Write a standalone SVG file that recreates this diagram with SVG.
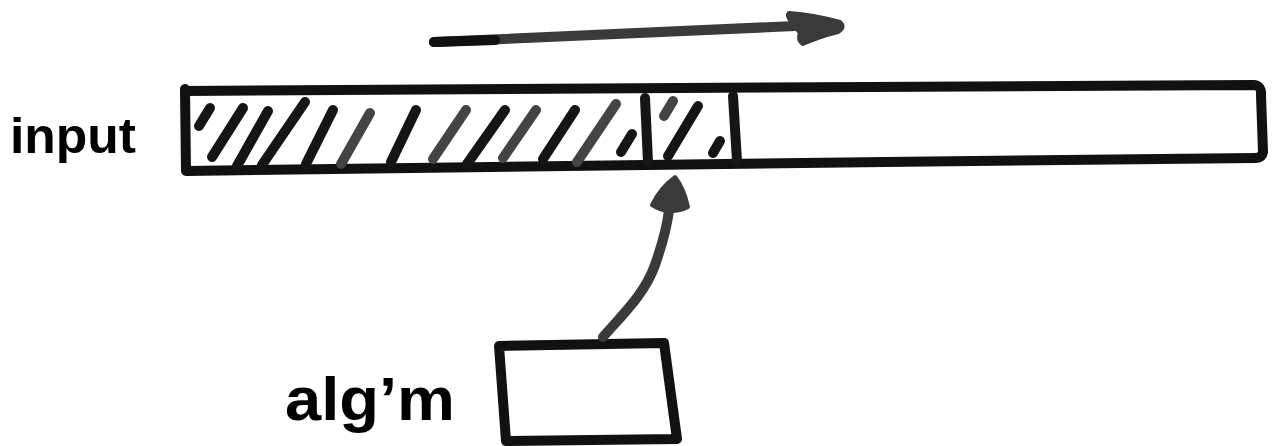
<svg xmlns="http://www.w3.org/2000/svg" width="1272" height="446" viewBox="0 0 1272 446">
  <style>
    .outline { fill: none; stroke: #111; stroke-width: 10; stroke-linecap: round; stroke-linejoin: round; }
    .hatch { fill: none; stroke: #151515; stroke-width: 10; stroke-linecap: round; }
    .hatch.gray { stroke: #444; }
    .label { font-family: "Liberation Sans", Arial, sans-serif; font-weight: bold; fill: #000; }
    .conn { fill: none; stroke: #3a3a3a; stroke-width: 10; stroke-linecap: round; stroke-linejoin: round; }
    .conn.dark { stroke: #111; }
    .head { fill: #3a3a3a; stroke: #3a3a3a; stroke-width: 4; stroke-linejoin: round; }
  </style>
  <rect width="1272" height="446" fill="#fff"/>

  <g id="input-label">
    <text class="label" x="10" y="153" font-size="50" textLength="126" lengthAdjust="spacingAndGlyphs">input</text>
  </g>

  <g id="input">
    <path class="outline" d="M185 89 L186 171 M185 91 C500 90 900 86 1254 85 Q1262 86 1261 95 L1263 152 Q1262 158 1256 158 C900 161 500 167 186 171"/>
    <line class="hatch" x1="210" y1="108" x2="199" y2="126"/>
    <line class="hatch" x1="243" y1="108" x2="212" y2="157"/>
    <line class="hatch" x1="268" y1="111" x2="237" y2="166"/>
    <line class="hatch" x1="305" y1="102" x2="262" y2="165"/>
    <line class="hatch" x1="333" y1="110" x2="306" y2="164"/>
    <line class="hatch gray" x1="370" y1="113" x2="341" y2="164"/>
    <line class="hatch" x1="416" y1="110" x2="391" y2="162"/>
    <line class="hatch gray" x1="466" y1="110" x2="433" y2="159"/>
    <line class="hatch" x1="505" y1="110" x2="467" y2="164"/>
    <line class="hatch gray" x1="536" y1="110" x2="503" y2="158"/>
    <line class="hatch" x1="575" y1="110" x2="543" y2="159"/>
    <line class="hatch gray" x1="616" y1="104" x2="577" y2="162"/>
    <line class="hatch" x1="632" y1="134" x2="621" y2="152"/>
    <line class="hatch" x1="645" y1="98" x2="648" y2="162"/>
    <line class="hatch gray" x1="673" y1="101" x2="664" y2="116"/>
    <line class="hatch" x1="698" y1="106" x2="668" y2="156"/>
    <line class="hatch" x1="720" y1="141" x2="713" y2="153"/>
    <line class="hatch" x1="733" y1="96" x2="737" y2="161"/>
  </g>

  <g id="algm-label">
    <text class="label" x="285" y="420" font-size="62" textLength="170" lengthAdjust="spacingAndGlyphs">alg’m</text>
  </g>

  <g id="algm">
    <path class="outline" d="M499 346 L664 343 L677 439 L506 441 Z"/>
  </g>

  <g id="connectors">
    <path class="conn" d="M434 42 C560 37 680 31 795 26"/>
    <path class="conn dark" d="M434 42 L495 40"/>
    <path class="head" d="M789 13 Q815 15 840 22 Q846 27 838 32 Q818 37 803 44 Q797 40 800 33 L791 21 Q786 16 789 13 Z"/>
    <path class="conn" d="M603 337 C625 312 645 293 655 265 C662 245 667 228 669 210"/>
    <path class="head" d="M675 177 Q684 188 688 207 Q678 212 668 211 Q660 210 652 205 Q660 188 675 177 Z"/>
  </g>
</svg>
